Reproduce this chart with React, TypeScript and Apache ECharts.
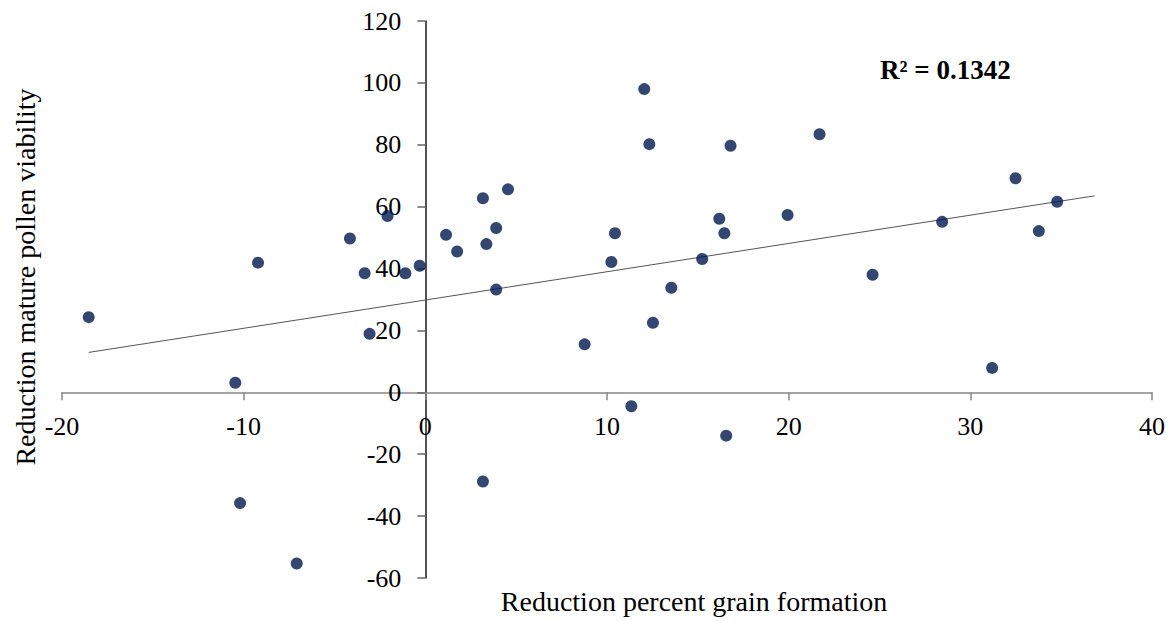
import React, { useEffect, useRef } from "react";
import * as echarts from "echarts";

const pointX = [
  -18.53, -10.46, -10.2, -9.21, -7.08, -4.15, -3.34, -3.07, -2.08, -1.1,
  -0.31, 1.14, 1.75, 3.17, 3.36, 3.9, 3.9, 4.55, 3.17, 8.77,
  10.24, 10.44, 11.34, 12.05, 12.33, 12.53, 13.54, 15.24, 16.18, 16.46,
  16.56, 16.8, 19.94, 21.7, 24.62, 28.45, 31.2, 32.49, 33.77, 34.78,
];
const pointY = [
  24.3, 3.1, -35.8, 41.9, -55.3, 49.7, 38.5, 18.9, 57.0, 38.5,
  40.9, 50.9, 45.5, 62.7, 47.9, 53.1, 33.2, 65.6, -28.8, 15.5,
  42.1, 51.4, -4.5, 98.0, 80.2, 22.5, 33.8, 43.1, 56.1, 51.4,
  -14.0, 79.7, 57.3, 83.4, 38.0, 55.1, 7.9, 69.2, 52.1, 61.6,
];
const trendX = [-18.53, 36.84];
const trendY = [12.9, 63.5];
const xTitle = "Reduction percent grain formation";
const yTitle = "Reduction mature pollen viability";
const r2Label = "R² = 0.1342";

const FONT = "'Liberation Serif', 'Times New Roman', serif";

const GRID_LEFT = 62;
const GRID_RIGHT = 18;
const GRID_TOP = 21;
const GRID_BOTTOM = 43;
const W = 1170;
const H = 621;
const X_MIN = -20;
const X_MAX = 40;
const Y_MIN = -60;
const Y_MAX = 120;

export default function App() {
  const ref = useRef<HTMLDivElement>(null);
  useEffect(() => {
    if (!ref.current) return;
    const chart = echarts.init(ref.current, undefined, { renderer: "svg" });
    const gw = W - GRID_LEFT - GRID_RIGHT;
    const gh = H - GRID_TOP - GRID_BOTTOM;
    // move axes to cross at the origin
    const yOffset = -((0 - X_MIN) / (X_MAX - X_MIN)) * gw;
    const xOffset = -((0 - Y_MIN) / (Y_MAX - Y_MIN)) * gh;
    chart.setOption({
      animation: false,
      backgroundColor: "#ffffff",
      grid: { left: GRID_LEFT, right: GRID_RIGHT, top: GRID_TOP, bottom: GRID_BOTTOM, containLabel: false },
      xAxis: {
        type: "value",
        min: X_MIN,
        max: X_MAX,
        interval: 10,
        position: "bottom",
        offset: xOffset,
        axisLine: { show: true, onZero: false, lineStyle: { color: "#868686", width: 1.5 } },
        axisTick: { show: true, inside: false, length: 8, lineStyle: { color: "#868686", width: 1.5 } },
        axisLabel: { color: "#000", fontFamily: FONT, fontSize: 26, margin: 21 },
        splitLine: { show: false },
      },
      yAxis: {
        type: "value",
        min: Y_MIN,
        max: Y_MAX,
        interval: 20,
        position: "left",
        offset: yOffset,
        axisLine: { show: true, onZero: false, lineStyle: { color: "#1a1a1a", width: 1.5 } },
        axisTick: { show: true, inside: false, length: 8, lineStyle: { color: "#666", width: 1.5 } },
        axisLabel: { color: "#000", fontFamily: FONT, fontSize: 26, margin: 24 },
        splitLine: { show: false },
      },
      series: [
        {
          type: "line",
          data: trendX.map((x, i) => [x, trendY[i]]),
          showSymbol: false,
          symbol: "none",
          lineStyle: { color: "#555", width: 1 },
          z: 1,
          silent: true,
        },
        {
          type: "scatter",
          data: pointX.map((x, i) => [x, pointY[i]]),
          symbolSize: 12,
          itemStyle: { color: "#00194f", borderWidth: 0 },
          z: 3,
        },
      ],
      graphic: [
        {
          type: "text",
          left: 880,
          top: 56,
          style: { text: r2Label, fontFamily: FONT, fontSize: 27, fontWeight: "bold", fill: "#000" },
        },
        {
          type: "text",
          x: 694,
          y: 601,
          style: {
            text: xTitle,
            fontFamily: FONT,
            fontSize: 28,
            fill: "#000",
            align: "center",
            verticalAlign: "middle",
          },
        },
        {
          type: "text",
          x: 25,
          y: 277,
          rotation: Math.PI / 2,
          style: {
            text: yTitle,
            fontFamily: FONT,
            fontSize: 28,
            fill: "#000",
            align: "center",
            verticalAlign: "middle",
          },
        },
      ],
    });
    return () => chart.dispose();
  }, []);
  return (
    <div
      ref={ref}
      style={{ position: "fixed", left: 0, top: 0, width: W, height: H, background: "#fff" }}
    />
  );
}
